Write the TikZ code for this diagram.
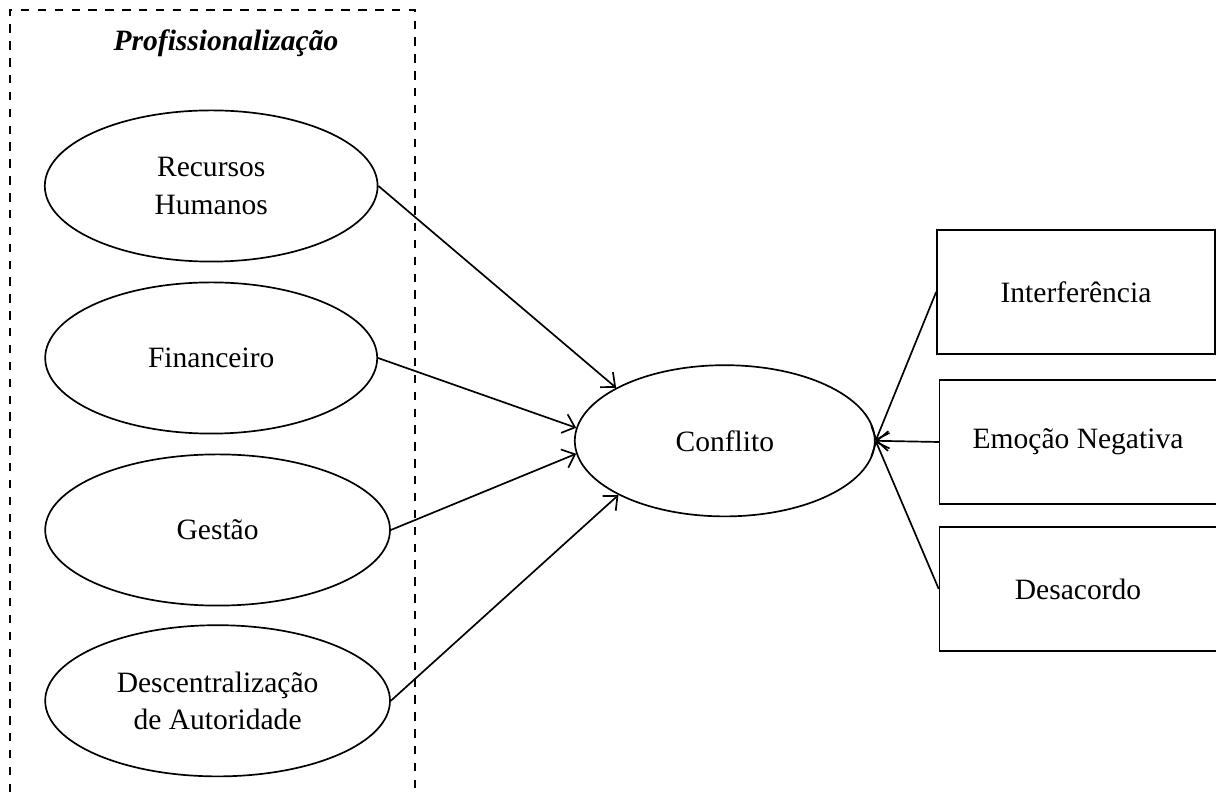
\documentclass[tikz,border=0pt]{standalone}
\usepackage{fontspec}
\setmainfont{Liberation Serif}
\usetikzlibrary{arrows.meta, shapes.geometric}

\begin{document}
\begin{tikzpicture}[line width=0.6pt, >={Straight Barb[length=4pt,width=7pt]},
      font=\fontsize{10.5}{13.4}\selectfont,
      factor/.style={ellipse, draw, inner sep=0pt, align=center, minimum height=1.89cm},
      dim/.style={rectangle, draw, inner sep=0pt, minimum width=3.46cm, minimum height=1.55cm}]
      \useasboundingbox (0,0) rectangle (15.2,9.9);

      % Dashed frame (open at the bottom)
      \draw[dashed, line width=0.5pt] (0.125,0) -- (0.125,9.775) -- (5.19,9.775) -- (5.19,0);
      \node (prof) at (2.825,9.36) {\textbf{\textit{Profissionalização}}};

      % Ellipses
      \node[factor, minimum width=4.16cm] (rh) at (2.64,7.575) {Recursos\\Humanos};
      \node[factor, minimum width=4.15cm] (fin) at (2.64,5.425) {Financeiro};
      \node[factor, minimum width=4.31cm] (ges) at (2.72,3.275) {Gestão};
      \node[factor, minimum width=4.31cm] (desc) at (2.72,1.14) {Descentralização\\de Autoridade};
      \node[factor, minimum width=3.75cm] (confl) at (9.06,4.39) {Conflito};

      % Boxes
      \node[dim, minimum width=3.475cm] (interf) at (13.45,6.25) {Interferência};
      \node[dim] (emoc) at (13.475,4.375) {Emoção Negativa};
      \node[dim] (desac) at (13.475,2.5375) {Desacordo};

      % Arrows into Conflito
      \draw[->] (rh.east) -- (confl.154);
      \draw[->] (fin.east) -- (confl.175);
      \draw[->] (ges.east) -- (confl.185);
      \draw[->] (desc.east) -- (confl.207);
      \foreach \b in {interf, emoc, desac} {
        \draw[->] (\b.west) -- (confl.east);
      }
    \end{tikzpicture}
\end{document}
